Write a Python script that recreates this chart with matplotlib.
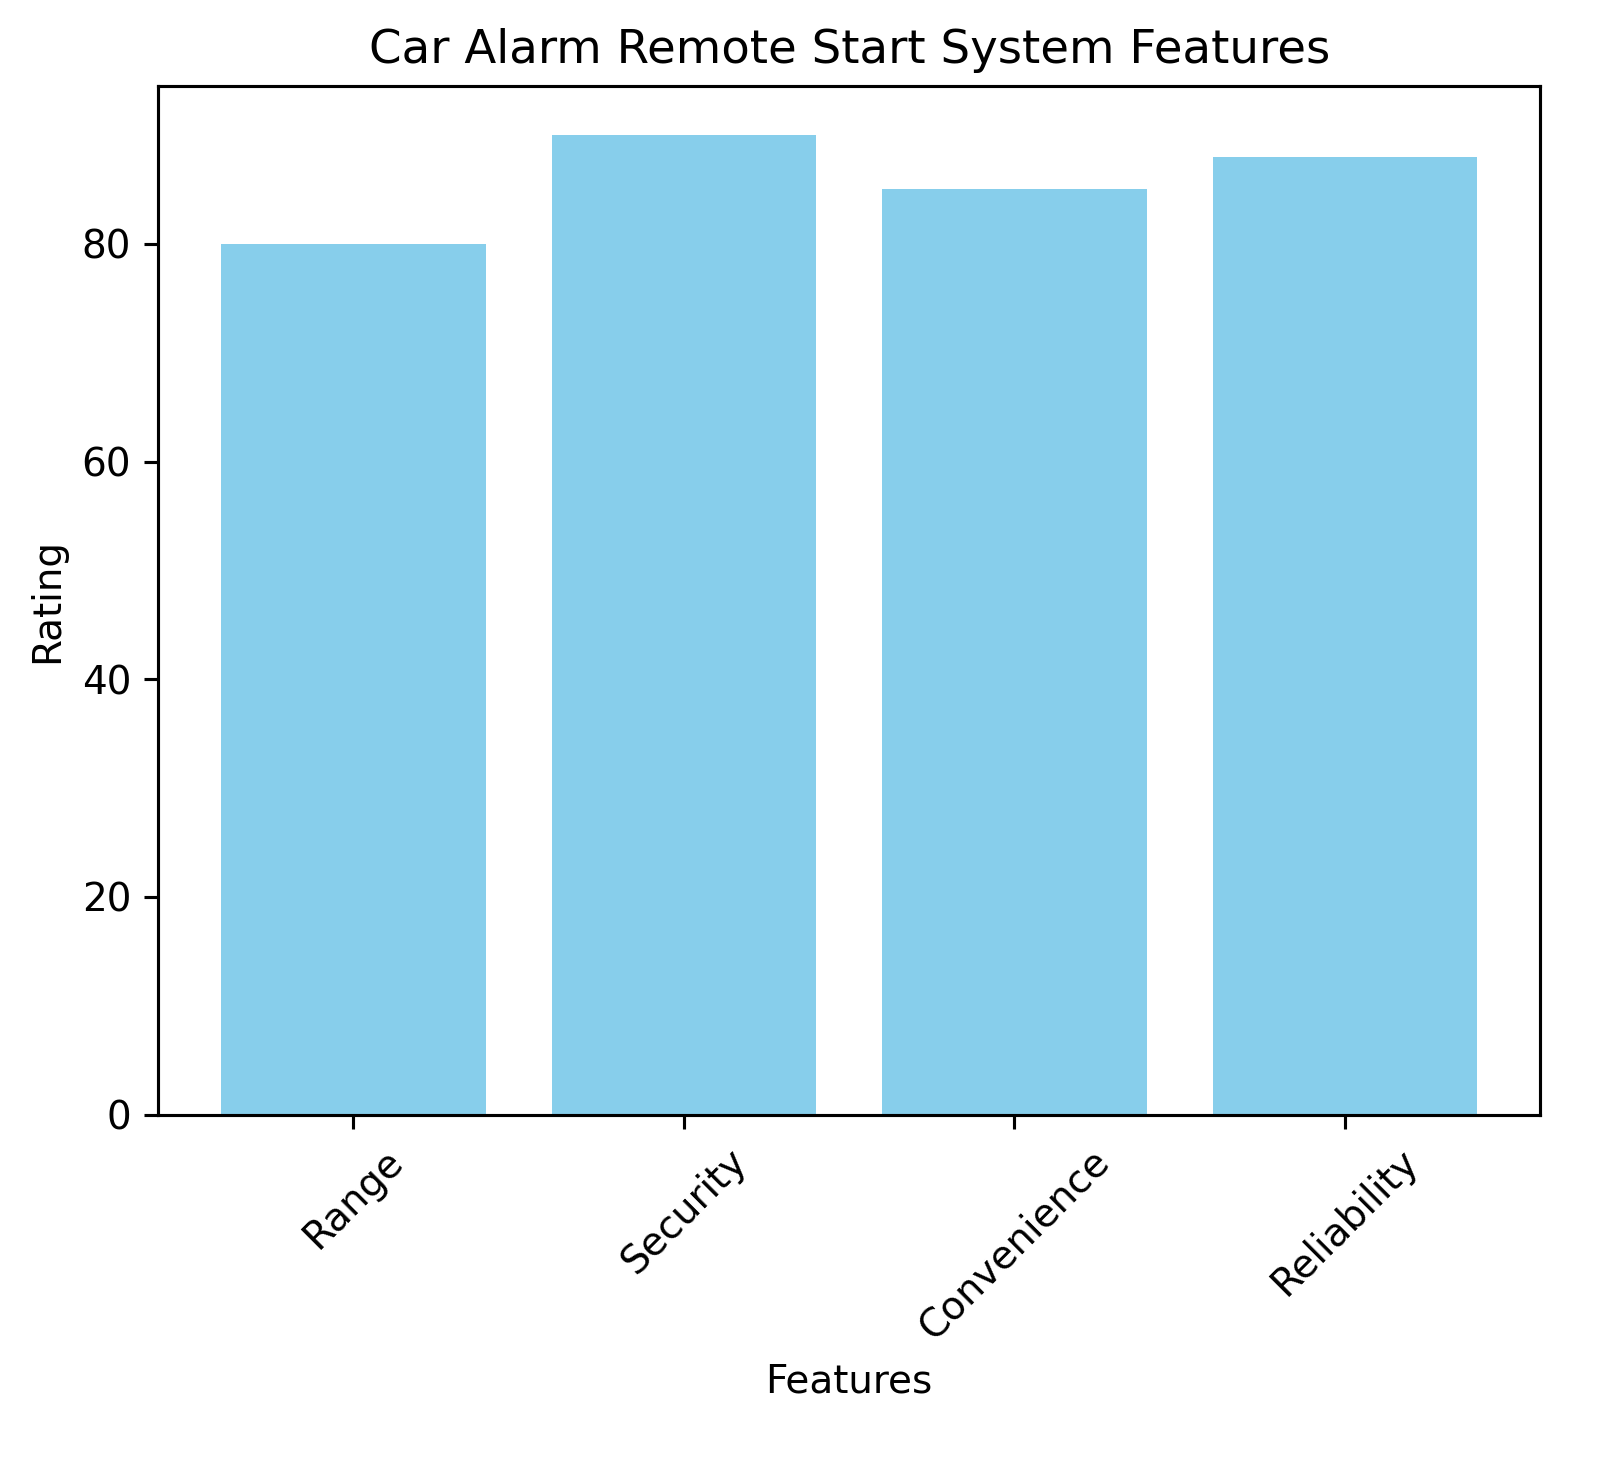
import matplotlib
matplotlib.use("Agg")
import matplotlib.pyplot as plt

# data
features = ["Range", "Security", "Convenience", "Reliability"]
ratings = [80, 90, 85, 88]

fig, ax = plt.subplots(figsize=(1600 / 280, 1459 / 280), dpi=280)
fig.subplots_adjust(left=0.099, right=0.9625, top=0.941, bottom=0.236)

ax.bar(features, ratings, color="skyblue")
ax.set_title("Car Alarm Remote Start System Features")
ax.set_xlabel("Features")
ax.set_ylabel("Rating")
plt.xticks(rotation=45)

fig.savefig("out.png", dpi=280)
